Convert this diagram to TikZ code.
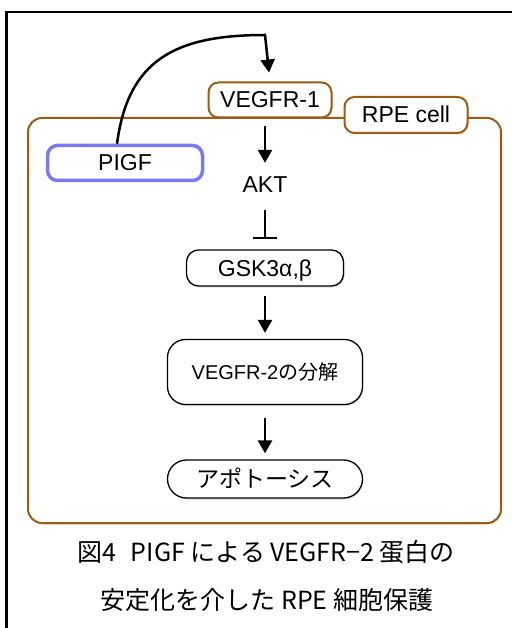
\documentclass[tikz,border=0pt]{standalone}
\usepackage{fontspec}
\setmainfont{Liberation Sans}
\newfontfamily\cjk{Noto Sans CJK JP}
\usetikzlibrary{arrows.meta}
\usetikzlibrary{positioning}
\usetikzlibrary{shadows}
\definecolor{cellbrown}{RGB}{155,92,22}
\definecolor{ligandblue}{RGB}{122,122,240}
\tikzset{box/.style = {draw, fill=white, rounded corners=10pt, line width=1.3pt, inner sep=0pt,
                       font=\fontsize{23}{27}\selectfont, text height=16pt, text depth=0pt,
                       drop shadow={opacity=0.25, shadow xshift=1pt, shadow yshift=-1.5pt}},
         membrane/.style = {box, draw=cellbrown, line width=2pt},
         ligand/.style = {box, draw=ligandblue, line width=3.5pt},
         act/.style = {-{Triangle[width=14pt,length=13pt]}, line width=2.5pt},
         inh/.style = {-{Bar[width=24pt]}, line width=2.5pt}}

\begin{document}
\begin{tikzpicture}[x=1pt, y=-1pt]
      \useasboundingbox (0, 0) rectangle (512, 628);
      \draw [line width=2.5pt] (6.5, 628) -- (6.5, 12) -- (512, 12);

      % cell
      \draw [draw=cellbrown, fill=white, line width=2pt, rounded corners=14pt,
             drop shadow={opacity=0.25, shadow xshift=1pt, shadow yshift=-1.5pt}]
            (28, 118) rectangle (501, 523);

      \node [membrane, minimum width=123pt, minimum height=35pt] (vegfr1) at (270, 100) {VEGFR-1};
      \node [membrane, minimum width=123pt, minimum height=36pt] (rpe) at (406, 115) {RPE cell};
      \node [ligand, minimum width=155pt, minimum height=35pt] (pigf) at (125, 163) {PIGF};
      \node [font=\fontsize{23}{27}\selectfont, text height=16pt, text depth=0pt, inner sep=0pt] (akt) at (265, 185) {AKT};
      \node [box, minimum width=157pt, minimum height=36pt, rounded corners=12pt] (gsk) at (265, 268) {GSK3α,β};
      \node [box, minimum width=195pt, minimum height=65pt, rounded corners=18pt,
             font=\fontsize{20}{24}\selectfont, text height=14pt] (deg) at (265, 372) {VEGFR-2{\cjk の分解}};
      \node [box, minimum width=195pt, minimum height=38pt, rounded corners=19pt] (apo) at (265, 479) {\cjk アポトーシス};

      \coordinate (turn) at (265, 35);
      \draw [act, shorten >=9pt] ([xshift=-8pt]pigf.north) .. controls (128, 60) and (175, 35) .. (turn) -- (vegfr1.north);
      \draw [act, shorten <=8pt, shorten >=14pt] (vegfr1.south -| akt) -- (akt.north);
      \draw [inh, shorten <=17pt, shorten >=10pt] (akt.south) -- (gsk.north);
      \draw [act, shorten <=9pt, shorten >=6pt] (gsk.south) -- (deg.north);
      \draw [act, shorten <=13pt, shorten >=6pt] (deg.south) -- (apo.north);

      % caption
      \node [font=\cjk\fontsize{25}{30}\selectfont] (cap1) at (266, 552) {図4\hspace{0.6em}PIGF による VEGFR−2 蛋白の};
      \node [font=\cjk\fontsize{25}{30}\selectfont] (cap2) at (267, 600) {安定化を介した RPE 細胞保護};
\end{tikzpicture}
\end{document}
